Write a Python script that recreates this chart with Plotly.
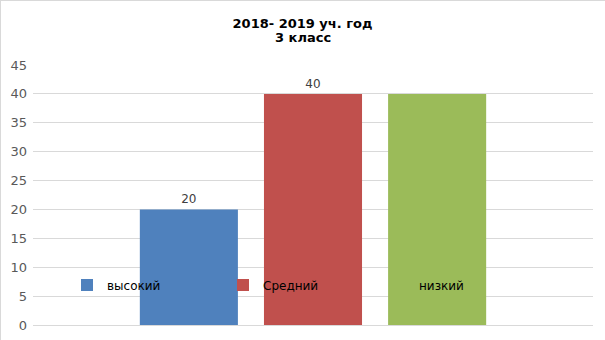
import plotly.graph_objects as go

# Chart data
category = ["3 класс"]
series_names = ["высокий", "Средний", "низкий"]
series_values = [20, 40, 40]
series_colors = ["#4F81BD", "#C0504D", "#9BBB59"]
show_label = [True, True, False]
y_ticks = [0, 5, 10, 15, 20, 25, 30, 35, 40, 45]
title_lines = ["2018- 2019 уч. год", "3 класс"]

W, H = 605, 340
ML, MR, MT, MB = 33, 12, 65, 15
pw, ph = W - ML - MR, H - MT - MB

fig = go.Figure()
for name, val, col, lab in zip(series_names, series_values, series_colors, show_label):
    fig.add_trace(go.Bar(
        x=category, y=[val], name=name,
        marker=dict(color=col, line=dict(width=0)),
        text=[str(val)] if lab else None,
        textposition="outside",
        textfont=dict(family="DejaVu Sans", size=12, color="#404040"),
        cliponaxis=False,
    ))

# thin frame along the top and left edges of the chart
shapes = [
    dict(type="line", xref="paper", yref="paper",
         x0=(0.5 - ML) / pw, x1=(W - ML) / pw,
         y0=(H - 0.5 - MB) / ph, y1=(H - 0.5 - MB) / ph,
         line=dict(color="#D9D9D9", width=1)),
    dict(type="line", xref="paper", yref="paper",
         x0=(0.5 - ML) / pw, x1=(0.5 - ML) / pw,
         y0=-MB / ph, y1=(H - MB) / ph,
         line=dict(color="#D9D9D9", width=1)),
]

title_font = dict(family="DejaVu Sans", size=13, color="#000000")

fig.update_layout(
    width=W, height=H,
    margin=dict(l=ML, r=MR, t=MT, b=MB, autoexpand=False),
    paper_bgcolor="white", plot_bgcolor="white",
    font=dict(family="DejaVu Sans", size=12, color="#595959"),
    title=dict(
        text="<b>" + title_lines[0] + "</b>",
        x=0.5, xref="container", xanchor="center",
        y=1 - 23 / H, yref="container", yanchor="middle",
        font=title_font,
    ),
    annotations=[dict(
        text="<b>" + title_lines[1] + "</b>",
        xref="paper", yref="paper",
        x=(W / 2 - ML) / pw, y=(H - MB - 38) / ph,
        xanchor="center", yanchor="middle", showarrow=False,
        font=title_font,
    )],
    barmode="group", bargap=0.335, bargroupgap=0.21,
    xaxis=dict(visible=False, automargin=False),
    yaxis=dict(
        range=[0, 45], tickvals=y_ticks, ticks="", showline=False,
        automargin=False,
        gridcolor="#D9D9D9", gridwidth=1,
        zeroline=True, zerolinecolor="#D9D9D9", zerolinewidth=1,
        tickfont=dict(family="DejaVu Sans", size=13, color="#595959"),
        ticklabelstandoff=5,
    ),
    showlegend=True,
    legend=dict(
        orientation="h", x=(67 - ML) / pw, xanchor="left",
        y=(325 - 285) / ph, yanchor="middle",
        bgcolor="rgba(0,0,0,0)", entrywidth=111, entrywidthmode="pixels",
        font=dict(family="DejaVu Sans", size=12, color="#000000"),
        traceorder="normal",
    ),
    shapes=shapes,
)

fig.write_html("out.html")
